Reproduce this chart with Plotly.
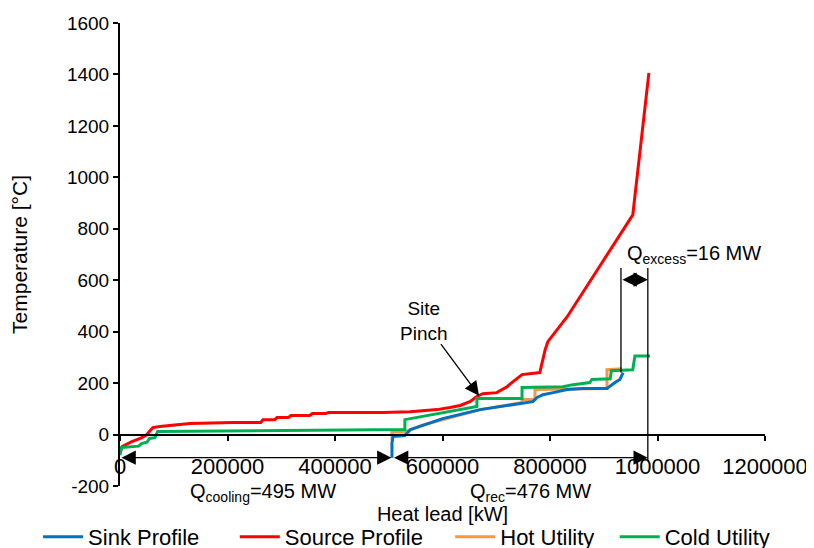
import plotly.graph_objects as go

# ---- data (x in kW, T in °C) ----
sink_x = [506000, 506000, 508000, 530000, 540000, 564000, 600000, 670000, 707000, 768000, 776000, 787000, 806000, 832000, 861000, 906000, 921000, 930000, 936000]
sink_t = [-90, -31, -8, -4, 19, 37, 62, 97, 109, 128, 144, 155, 163, 175, 179, 179, 202, 214, 241]

source_x = [0, 4000, 22000, 41000, 50000, 61000, 74000, 97000, 130000, 210000, 262000, 266000, 288000, 292000, 313000, 318000, 353000, 358000, 383000, 388000, 489000, 540000, 590000, 614000, 633000, 646000, 651000, 664000, 675000, 701000, 720000, 729000, 741000, 748000, 781000, 791000, 796000, 832000, 954000, 984000]
source_t = [-70, -47, -27, -12, 0, 27, 31, 35, 43, 47, 47, 58, 58, 66, 66, 74, 74, 82, 82, 86, 86, 89, 97, 105, 113, 124, 128, 148, 159, 163, 186, 202, 221, 233, 241, 330, 361, 458, 854, 1406]

hot_x = [506000, 506000, 530000, 540000, 564000, 670000, 707000, 748000, 748000, 772000, 772000, 832000, 906000, 906000, 934000]
hot_t = [-20, 10, 10, 19, 37, 97, 109, 125, 136, 136, 175, 177, 179, 252, 256]

cold_x = [0, 3000, 35000, 40000, 50000, 55000, 65000, 70000, 530000, 530000, 664000, 664000, 748000, 748000, 824000, 843000, 874000, 878000, 912000, 914000, 954000, 958000, 986000]
cold_t = [-80, -50, -45, -35, -30, -15, -12, 12, 20, 58, 109, 140, 140, 183, 186, 194, 202, 214, 217, 248, 252, 305, 305]

x_ticks = [0, 200000, 400000, 600000, 800000, 1000000, 1200000]
y_ticks = [-200, 0, 200, 400, 600, 800, 1000, 1200, 1400, 1600]

q_cool_span = [0, 505000]
q_rec_span = [507000, 982000]
q_exc_span = [932000, 982000]

FONT = "Liberation Sans, Arial, sans-serif"

fig = go.Figure()
fig.add_trace(go.Scatter(x=hot_x, y=hot_t, mode="lines", name="Hot Utility",
                         line=dict(color="#F79646", width=3), legend="legend3"))
fig.add_trace(go.Scatter(x=sink_x, y=sink_t, mode="lines", name="Sink Profile",
                         line=dict(color="#0070C0", width=3), legend="legend"))
fig.add_trace(go.Scatter(x=source_x, y=source_t, mode="lines", name="Source Profile",
                         line=dict(color="#FF0000", width=3), legend="legend2"))
fig.add_trace(go.Scatter(x=cold_x, y=cold_t, mode="lines", name="Cold Utility",
                         line=dict(color="#00B050", width=3), legend="legend4"))

# vertical marker lines
fig.add_shape(type="line", x0=q_exc_span[0], x1=q_exc_span[0], y0=241, y1=648,
              line=dict(color="black", width=1.3))
fig.add_shape(type="line", x0=q_exc_span[1], x1=q_exc_span[1], y0=-105, y1=648,
              line=dict(color="black", width=1.3))

def darrow(x0, x1, y):
    fig.add_annotation(x=x1, y=y, ax=x0, ay=y, xref="x", yref="y", axref="x", ayref="y",
                       showarrow=True, arrowhead=2, startarrowhead=2, arrowside="end+start",
                       arrowsize=2.2, startarrowsize=2.2, arrowwidth=1.3, arrowcolor="black", text="")

darrow(q_cool_span[0], q_cool_span[1], -90)
darrow(q_rec_span[0], q_rec_span[1], -90)
darrow(q_exc_span[0], q_exc_span[1], 602)

# pinch arrow
fig.add_annotation(x=668000, y=151, ax=595000, ay=357, xref="x", yref="y", axref="x", ayref="y",
                   showarrow=True, arrowhead=2, arrowsize=2.2, arrowwidth=1.3, arrowcolor="black", text="")
fig.add_annotation(x=565000, y=442, text="Site<br>Pinch", showarrow=False, align="center",
                   font=dict(family=FONT, size=19, color="black"))

fig.add_annotation(x=266000, xref="x", y=-0.013, yref="paper", yanchor="middle",
                   text="Q<sub>cooling</sub>=495 MW", showarrow=False,
                   font=dict(family=FONT, size=20, color="black"))
fig.add_annotation(x=763000, xref="x", y=-0.013, yref="paper", yanchor="middle",
                   text="Q<sub>rec</sub>=476 MW", showarrow=False,
                   font=dict(family=FONT, size=20, color="black"))
fig.add_annotation(x=939000, y=699, xanchor="left", text="Q<sub>excess</sub>=16 MW", showarrow=False,
                   font=dict(family=FONT, size=20, color="black"))

def leg(x):
    return dict(orientation="h", x=x, xanchor="left", y=-0.11, yanchor="middle",
                font=dict(family=FONT, size=22), itemwidth=40, bgcolor="rgba(0,0,0,0)")

# page body has 8px margin -> plot area shifted by margins to land at 120..765 x 23..486
fig.update_layout(
    width=814, height=548,
    margin=dict(l=112, r=57, t=15, b=70, autoexpand=False),
    paper_bgcolor="white", plot_bgcolor="white",
    font=dict(family=FONT, size=19, color="black"),
    showlegend=True,
    legend=leg(-0.127), legend2=leg(0.178), legend3=leg(0.512), legend4=leg(0.767),
    xaxis=dict(range=[0, 1200000], tickvals=x_ticks, tickformat="d", automargin=False,
               showline=True, linecolor="black", linewidth=2,
               ticks="outside", ticklen=5, tickwidth=2, tickcolor="black",
               showgrid=False, zeroline=False, anchor="free", position=200/1800,
               ticklabelstandoff=7, tickfont=dict(size=22),
               title=dict(text="Heat lead [kW]", standoff=28, font=dict(size=20))),
    yaxis=dict(range=[-200, 1600], tickvals=y_ticks, ticktext=[str(v) for v in y_ticks],
               automargin=False,
               showline=True, linecolor="black", linewidth=2,
               ticks="outside", ticklen=5, tickwidth=2, tickcolor="black",
               showgrid=False, zeroline=False, tickfont=dict(size=19),
               title=dict(text="Temperature [°C]", standoff=39, font=dict(size=21))),
)

fig.write_html("out.html")
